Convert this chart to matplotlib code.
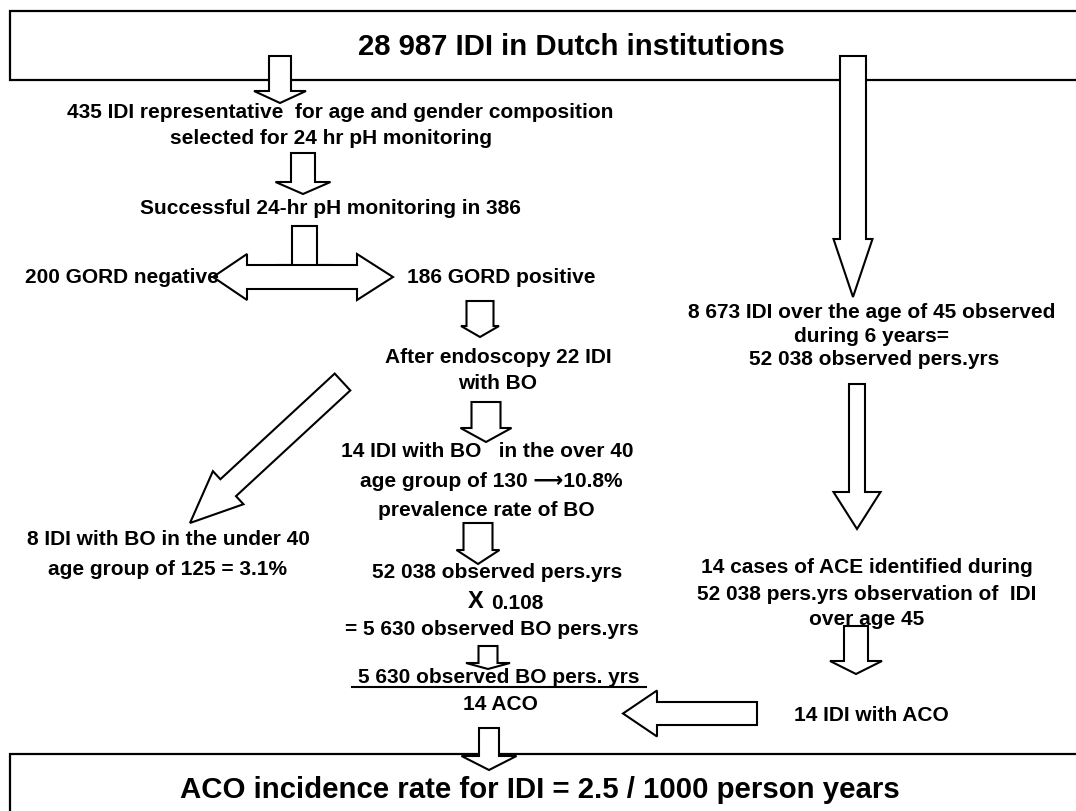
import matplotlib
matplotlib.use('Agg')
import matplotlib.pyplot as plt
import numpy as np
from matplotlib.patches import Polygon, Rectangle

plt.rcParams['font.family'] = ['Liberation Sans', 'DejaVu Sans']
plt.rcParams['font.weight'] = 'bold'

W, H = 1076, 812
FS = 15
FT = 21.2

# flowchart texts
title_top = '28 987 IDI in Dutch institutions'
title_bottom = 'ACO incidence rate for IDI = 2.5 / 1000 person years'
left_steps = [
    '435 IDI representative  for age and gender composition',
    'selected for 24 hr pH monitoring',
    'Successful 24-hr pH monitoring in 386',
]
gord_neg = '200 GORD negative'
gord_pos = '186 GORD positive'
endo = ['After endoscopy 22 IDI', 'with BO']
over40 = ['14 IDI with BO   in the over 40', 'age group of 130 \u27f610.8%', 'prevalence rate of BO']
under40 = ['8 IDI with BO in the under 40', 'age group of 125 = 3.1%']
calc = ['52 038 observed pers.yrs', '0.108', '= 5 630 observed BO pers.yrs']
ratio = ['5 630 observed BO pers. yrs', '14 ACO']
right_obs = ['8 673 IDI over the age of 45 observed', 'during 6 years=', '52 038 observed pers.yrs']
right_ace = ['14 cases of ACE identified during', '52 038 pers.yrs observation of  IDI', 'over age 45']
right_aco = '14 IDI with ACO'

# layout (pixel coords, y down)
text_pos = [
    (title_top, 571, 47, FT),
    (left_steps[0], 340, 113, FS),
    (left_steps[1], 331, 139, FS),
    (left_steps[2], 330, 208, FS),
    (endo[0], 498, 358, FS),
    (endo[1], 498, 384, FS),
    (over40[0], 487, 452, FS),
    (over40[1], 491, 482, FS),
    (over40[2], 486, 510, FS),
    (under40[0], 168, 540, FS),
    (under40[1], 168, 570, FS),
    (calc[0], 497, 573, FS),
    (calc[2], 492, 630, FS),
    (ratio[0], 499, 678, FS),
    (ratio[1], 500, 705, FS),
    (right_obs[0], 872, 313, FS),
    (right_obs[1], 872, 337, FS),
    (right_obs[2], 874, 360, FS),
    (right_ace[0], 867, 568, FS),
    (right_ace[1], 867, 595, FS),
    (right_ace[2], 867, 620, FS),
    (right_aco, 871, 716, FS),
    (title_bottom, 540, 790, FT),
]

# (tail, tip, shaft width, head width, head length)
arrows = [
    ((280, 57), (280, 104), 22, 52, 12),
    ((303, 154), (303, 195), 24, 55, 12),
    ((304.5, 227), (304.5, 280), 25, 56, 14),
    ((853, 57), (853, 298), 26, 39, 58),
    ((480, 302), (480, 338), 27, 38, 11),
    ((486, 403), (486, 443), 29, 51, 14),
    ((478, 524), (478, 565), 29, 43, 14),
    ((488, 647), (488, 670), 19, 44, 6),
    ((489, 729), (489, 771), 20, 55, 14),
    ((857, 385), (857, 530), 16, 47, 37),
    ((856, 627), (856, 675), 24, 52, 13),
    ((757, 714.5), (623, 714.5), 23, 46, 34),
    ((342.5, 383), (190, 524), 23, 45, 52),
]


def arrow_pts(tail, tip, sw, hw, hl):
    tail, tip = np.array(tail, float), np.array(tip, float)
    d = tip - tail
    u = d / np.hypot(*d)
    n = np.array([-u[1], u[0]])
    base = tip - u * hl
    return [tail + n * sw / 2, base + n * sw / 2, base + n * hw / 2, tip,
            base - n * hw / 2, base - n * sw / 2, tail - n * sw / 2]


fig = plt.figure(figsize=(W / 100, H / 100), dpi=100)
ax = fig.add_axes([0, 0, 1, 1])
ax.set_xlim(0, W)
ax.set_ylim(H, 0)
ax.axis('off')

ax.add_patch(Rectangle((10, 12), 1200, 69, fc='white', ec='black', lw=1.6, zorder=1))
ax.add_patch(Rectangle((10, 755), 1200, 100, fc='white', ec='black', lw=1.6, zorder=1))

for tail, tip, sw, hw, hl in arrows:
    ax.add_patch(Polygon(arrow_pts(tail, tip, sw, hw, hl), closed=True,
                         fc='white', ec='black', lw=1.5, zorder=2))

# double arrow between GORD negative / positive
dbl = [(213, 278), (247, 255), (247, 266), (357, 266), (357, 255), (393, 278),
       (357, 301), (357, 290), (247, 290), (247, 301)]
ax.add_patch(Polygon(dbl, closed=True, fc='white', ec='black', lw=1.5, zorder=3))

for s, x, y, fs in text_pos:
    ax.text(x, y, s, ha='center', va='center', fontsize=fs, zorder=5)

ax.text(25, 278, gord_neg, ha='left', va='center', fontsize=FS, zorder=5)
ax.text(407, 278, gord_pos, ha='left', va='center', fontsize=FS, zorder=5)

ax.text(476, 602, 'X', ha='center', va='center', fontsize=17, zorder=5)
ax.text(491, 604, calc[1], ha='left', va='center', fontsize=FS, zorder=5)

ax.plot([352, 646], [688, 688], color='black', lw=1.5, zorder=5)

fig.savefig('out.png', dpi=100)
